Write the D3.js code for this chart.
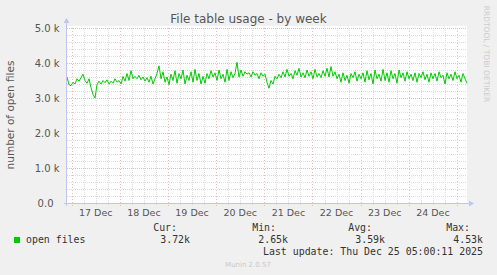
<!DOCTYPE html>
<html><head><meta charset="utf-8">
<script src="https://cdn.jsdelivr.net/npm/d3@7"></script>
<style>body{margin:0;background:#f0f0f0}svg{display:block}</style>
</head><body>
<svg id="c" width="497" height="275"></svg>
<script>
const title = "File table usage - by week";
const yLabel = "number of open files";
const seriesName = "open files";
const startTime = "2025-12-16T21:40:00Z";
const endTime = "2025-12-25T05:00:00Z";
// open files, in thousands, roughly hourly samples
const values = [
3.60,3.38,3.35,3.45,3.40,3.55,3.48,3.58,3.68,3.50,
3.42,3.55,3.30,3.10,3.00,3.38,3.48,3.40,3.50,3.44,
3.52,3.40,3.48,3.42,3.55,3.45,3.50,3.40,3.62,3.48,
3.70,3.50,3.78,3.55,3.62,3.55,3.65,3.52,3.60,3.48,
3.58,3.45,3.62,3.40,3.55,3.70,3.92,3.55,3.75,3.45,
3.60,3.38,3.68,3.50,3.78,3.42,3.70,3.55,3.80,3.40,
3.65,3.50,3.75,3.45,3.82,3.50,3.70,3.40,3.62,3.42,
3.70,3.55,3.78,3.60,3.72,3.50,3.80,3.55,3.68,3.45,
3.82,3.50,3.75,3.58,3.70,4.02,3.60,3.80,3.62,3.75,
3.68,3.72,3.60,3.75,3.65,3.70,3.55,3.72,3.62,3.68,
3.45,3.28,3.50,3.40,3.62,3.55,3.68,3.58,3.75,3.60,
3.82,3.62,3.70,3.55,3.78,3.65,3.85,3.60,3.72,3.58,
3.80,3.62,3.75,3.55,3.82,3.60,3.70,3.58,3.78,3.62,
3.85,3.60,3.90,3.62,3.75,3.55,3.68,3.45,3.72,3.50,
3.65,3.42,3.70,3.58,3.75,3.48,3.68,3.55,3.72,3.45,
3.78,3.52,3.70,3.40,3.80,3.55,3.68,3.48,3.82,3.50,
3.72,3.45,3.78,3.55,3.70,3.42,3.80,3.58,3.72,3.48,
3.75,3.55,3.68,3.50,3.72,3.45,3.70,3.58,3.75,3.52,
3.68,3.45,3.72,3.55,3.70,3.48,3.75,3.58,3.65,3.40,
3.72,3.55,3.68,3.50,3.75,3.55,3.65,3.45,3.70,3.55,
3.42];
const yTicks = [0,1,2,3,4,5];
const yTickLabels = ["0.0","1.0 k","2.0 k","3.0 k","4.0 k","5.0 k"];
const xTickDays = [17,18,19,20,21,22,23,24];
const xTickLabels = ["17 Dec","18 Dec","19 Dec","20 Dec","21 Dec","22 Dec","23 Dec","24 Dec"];
const statHeaders = ["Cur:","Min:","Avg:","Max:"];
const statValues = ["3.72k","2.65k","3.59k","4.53k"];
const lastUpdate = "Last update: Thu Dec 25 05:00:11 2025";
const footer = "Munin 2.0.57";
const sideText = "RRDTOOL / TOBI OETIKER";

const svg = d3.select("#c");
const L = 67, R = 467, T = 28, B = 203;
const t0 = new Date(startTime), t1 = new Date(endTime);
const x = d3.scaleUtc().domain([t0, t1]).range([L, R]);
const y = d3.scaleLinear().domain([0, 5]).range([B, T]);

svg.append("rect").attr("width",497).attr("height",275).attr("fill","#f0f0f0");
svg.append("rect").attr("x",L).attr("y",T-2).attr("width",R-L).attr("height",B-T+2).attr("fill","#ffffff");

const g = svg.append("g");
const minorC = "#dcdcdc", majorC = "#f2b6b6";
// minor horizontal
d3.range(0, 5.01, 0.2).forEach(v => {
  const major = Math.abs(v - Math.round(v)) < 1e-6;
  if (major) return;
  g.append("line").attr("x1",L).attr("x2",R).attr("y1",Math.round(y(v))+0.5).attr("y2",Math.round(y(v))+0.5)
    .attr("stroke",minorC).attr("stroke-dasharray","1,1");
});
// minor vertical every 6h
d3.utcHour.every(6).range(t0, t1).forEach(d => {
  if (d.getUTCHours() === 0) return;
  const px = Math.round(x(d)) + 0.5;
  g.append("line").attr("x1",px).attr("x2",px).attr("y1",T).attr("y2",B+2)
    .attr("stroke",minorC).attr("stroke-dasharray","1,1");
});
// major horizontal
yTicks.forEach(v => {
  if (v === 0) return;
  g.append("line").attr("x1",L).attr("x2",R).attr("y1",Math.round(y(v))+0.5).attr("y2",Math.round(y(v))+0.5)
    .attr("stroke",majorC).attr("stroke-dasharray","1,1");
});
// major vertical at midnight
d3.utcDay.range(t0, t1).forEach(d => {
  const px = Math.round(x(d)) + 0.5;
  g.append("line").attr("x1",px).attr("x2",px).attr("y1",T).attr("y2",B+3)
    .attr("stroke",majorC).attr("stroke-dasharray","1,2");
});

// data line
const step = (t1 - t0) / (values.length - 1);
const line = d3.line().x((d,i) => x(new Date(+t0 + i*step))).y(d => y(d));
svg.append("path").datum(values).attr("d", line).attr("fill","none")
  .attr("stroke","#00cc00").attr("stroke-width",1);

// axes lines with arrows
const axc = "#c0c4f0";
svg.append("line").attr("x1",L-0.5).attr("x2",L-0.5).attr("y1",B+3).attr("y2",T-6).attr("stroke",axc);
svg.append("path").attr("d",`M${L-3.5},${T-5} L${L-0.5},${T-10} L${L+2.5},${T-5} Z`).attr("fill",axc);
svg.append("line").attr("x1",L-3).attr("x2",R+3).attr("y1",B+0.5).attr("y2",B+0.5).attr("stroke",axc);
svg.append("path").attr("d",`M${R+2},${B-2.5} L${R+7},${B+0.5} L${R+2},${B+3.5} Z`).attr("fill",axc);

// y tick labels
const tc = "#555555";
yTicks.forEach((v,i) => {
  svg.append("text").attr("x", i === 0 ? 53.5 : 59.5).attr("y", y(v)+3.5)
    .attr("text-anchor","end").attr("font-family","DejaVu Sans").attr("font-size",10).attr("fill",tc)
    .text(yTickLabels[i]);
});
// x tick labels
xTickDays.forEach((d,i) => {
  svg.append("text").attr("x", x(new Date(Date.UTC(2025,11,d,12)))).attr("y", 216)
    .attr("text-anchor","middle").attr("font-family","DejaVu Sans").attr("font-size",9.5).attr("fill",tc)
    .text(xTickLabels[i]);
});

// title
svg.append("text").attr("x",248.5).attr("y",23).attr("text-anchor","middle")
  .attr("font-family","DejaVu Sans").attr("font-size",12).attr("fill","#555555").text(title);
// y label
svg.append("text").attr("transform","translate(14,115) rotate(-90)").attr("text-anchor","middle")
  .attr("font-family","DejaVu Sans").attr("font-size",10.5).attr("fill","#555555").text(yLabel);
// side text
svg.append("text").attr("transform","translate(484,54) rotate(90)").attr("text-anchor","middle")
  .attr("font-family","DejaVu Sans").attr("font-size",7.5).attr("fill","#cccccc").text(sideText);

// legend
const mono = "DejaVu Sans Mono";
svg.append("rect").attr("x",14).attr("y",237).attr("width",6).attr("height",6).attr("fill","#00cc00");
svg.append("text").attr("x",26).attr("y",243).attr("font-family",mono).attr("font-size",9.9).attr("fill","#333").text(seriesName);
const hdrRight = [177, 276, 372, 470];
const valRight = [190, 288, 385, 483];
statHeaders.forEach((h,i) => {
  svg.append("text").attr("x",hdrRight[i]).attr("y",231).attr("text-anchor","end")
    .attr("font-family",mono).attr("font-size",9.9).attr("fill","#333").text(h);
  svg.append("text").attr("x",valRight[i]).attr("y",243).attr("text-anchor","end")
    .attr("font-family",mono).attr("font-size",9.9).attr("fill","#333").text(statValues[i]);
});
svg.append("text").attr("x",483).attr("y",254.5).attr("text-anchor","end")
  .attr("font-family",mono).attr("font-size",9.9).attr("fill","#333").text(lastUpdate);
svg.append("text").attr("x",248).attr("y",267).attr("text-anchor","middle")
  .attr("font-family","DejaVu Sans").attr("font-size",7).attr("fill","#c8c8c8").text(footer);
</script>
</body></html>
